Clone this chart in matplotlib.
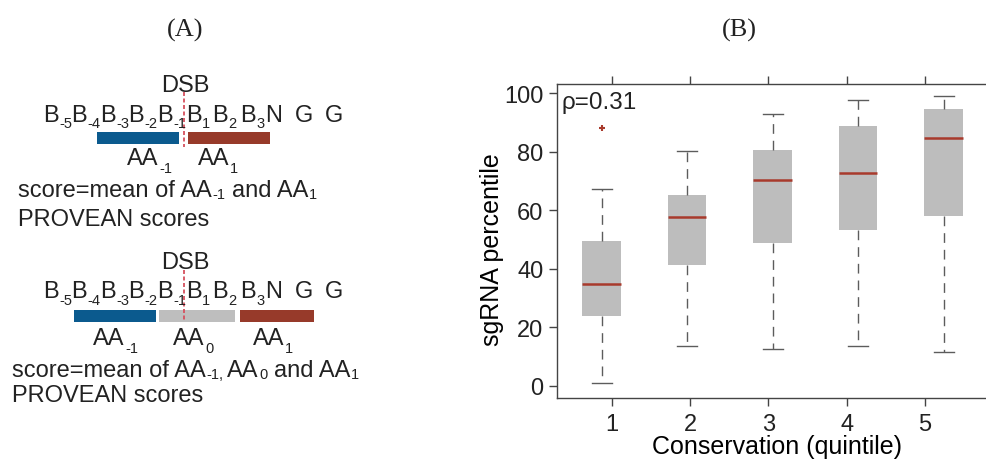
import matplotlib
matplotlib.use("Agg")
import matplotlib.pyplot as plt

plt.rcParams['font.family'] = ['Liberation Sans', 'DejaVu Sans']
plt.rcParams['text.color'] = '#222222'

# ---- panel B data ----
quintiles = ['1', '2', '3', '4', '5']
whisker_low = [1.1, 13.7, 12.6, 13.7, 11.5]
q1 = [23.9, 41.4, 48.9, 53.4, 58.1]
medians = [34.8, 57.7, 70.5, 72.9, 84.7]
q3 = [49.4, 65.4, 80.6, 89.0, 94.5]
whisker_high = [67.3, 80.4, 92.8, 97.7, 99.2]
outliers = [[88.1], [], [], [], []]
rho_text = 'ρ=0.31'

# ---- panel A diagram text ----
seq_letters = ['B', 'B', 'B', 'B', 'B', 'B', 'B', 'B', 'N', 'G', 'G']
seq_subs = ['-5', '-4', '-3', '-2', '-1', '1', '2', '3', '', '', '']

BLUE = '#0b5a8e'
RED = '#973a2a'
GREY = '#bebebe'
DSB_RED = '#d6505e'

fig = plt.figure(figsize=(9.86, 4.64), dpi=100)
renderer = fig.canvas.get_renderer()

# full-figure axes in pixel units for the schematic
ax_a = fig.add_axes([0, 0, 1, 1])
ax_a.set_xlim(0, 986)
ax_a.set_ylim(464, 0)
ax_a.axis('off')

BIG = 17
SMALL = 10.5
TITLE = 19


def text_width(t):
    return t.get_window_extent(renderer).width


def chain(x, y, pieces):
    # pieces: (text, fontsize, drop, gap_before)
    for txt, size, drop, gap in pieces:
        x += gap
        t = ax_a.text(x, y + drop, txt, fontsize=size, ha='left', va='baseline')
        x += text_width(t)
    return x


def draw_sequence(baseline, xs):
    for letter, sub, x in zip(seq_letters, seq_subs, xs):
        t = ax_a.text(x, baseline, letter, fontsize=BIG, ha='left', va='baseline')
        if sub:
            ax_a.text(x + text_width(t) + 0.5, baseline + 6.5, sub, fontsize=SMALL,
                      ha='left', va='baseline')


seq_x = [43, 71.5, 100, 128.5, 157, 186, 212, 240, 265, 295, 325]

# top diagram
ax_a.text(185, 30, '(A)', fontsize=TITLE, family='Liberation Serif', ha='center', va='center')
ax_a.text(185, 86, 'DSB', fontsize=BIG, ha='center', va='center')
draw_sequence(121.7, seq_x)
ax_a.barh(139, 82.3, left=96.7, height=12.3, color=BLUE)
ax_a.barh(139, 81.7, left=188.3, height=12.3, color=RED)
ax_a.plot([183.5, 183.5], [93, 148], color=DSB_RED, lw=1.3, ls=(0, (2.2, 1.4)))
chain(127, 165, [('AA', BIG, 0, 0), ('-1', SMALL, 8, 0.5)])
chain(198, 165, [('AA', BIG, 0, 0), ('1', SMALL, 8, 0.5)])
chain(18, 196.7, [('score=mean of AA', BIG, 0, 0), ('-1', SMALL, 2, 0.5),
                  ('and AA', BIG, 0, 6.5), ('1', SMALL, 2, 0.5)])
ax_a.text(18, 225.7, 'PROVEAN scores', fontsize=BIG, ha='left', va='baseline')

# bottom diagram
ax_a.text(185, 263.5, 'DSB', fontsize=BIG, ha='center', va='center')
draw_sequence(298.3, seq_x)
ax_a.barh(316.8, 82, left=74, height=11.7, color=BLUE)
ax_a.barh(316.8, 75.7, left=159.3, height=11.7, color=GREY)
ax_a.barh(316.8, 74, left=240, height=11.7, color=RED)
ax_a.plot([183.5, 183.5], [271, 322], color=DSB_RED, lw=1.3, ls=(0, (2.2, 1.4)))
chain(93.3, 345, [('AA', BIG, 0, 0), ('-1', SMALL, 8, 0.5)])
chain(173.3, 345, [('AA', BIG, 0, 0), ('0', SMALL, 8, 0.5)])
chain(253.3, 345, [('AA', BIG, 0, 0), ('1', SMALL, 8, 0.5)])
chain(11.7, 376.7, [('score=mean of AA', BIG, 0, 0), ('-1,', SMALL, 2, 0.5),
                    ('AA', BIG, 0, 4), ('0', SMALL, 2, 0.5),
                    ('and AA', BIG, 0, 6.5), ('1', SMALL, 2, 0.5)])
ax_a.text(11.7, 401.7, 'PROVEAN scores', fontsize=BIG, ha='left', va='baseline')

ax_a.text(739, 30, '(B)', fontsize=TITLE, family='Liberation Serif', ha='center', va='center')

# ---- panel B boxplot ----
left = 557.3 / 986
bottom = (464 - 399) / 464
top = (464 - 85) / 464
ax = fig.add_axes([left, bottom, 1 - left, top - bottom])

stats = []
for i in range(len(quintiles)):
    stats.append(dict(whislo=whisker_low[i], q1=q1[i], med=medians[i], q3=q3[i],
                      whishi=whisker_high[i], fliers=outliers[i], label=quintiles[i]))
positions = list(range(1, len(quintiles) + 1))

ax.bxp(stats, positions=positions, widths=0.45, capwidths=0.23, patch_artist=True,
       boxprops=dict(facecolor='#bdbdbd', edgecolor='none'),
       medianprops=dict(color='#a83a2c', lw=1.8),
       whiskerprops=dict(color='#5c5c5c', lw=1.0, ls=(0, (7, 5))),
       capprops=dict(color='#5c5c5c', lw=1.0),
       flierprops=dict(marker='+', markeredgecolor='#a83a2c', markersize=5, mew=1.5))

ax.set_xlim(0.481, 5.495)
ax.set_ylim(-4.2, 103.2)
# tick marks do not line up with the boxes in the original figure
tick_pos = [1.117, 2.033, 2.949, 3.865, 4.782]
ax.set_xticks(tick_pos)
ax.set_xticklabels(quintiles)
ax.set_yticks([0, 20, 40, 60, 80, 100])
ax.tick_params(axis='both', labelsize=17, length=6, width=1.0, color='#444444',
               labelcolor='#222222', direction='out')
ax.tick_params(axis='x', top=True, pad=5)
ax.tick_params(axis='y', pad=4)
for side in ['left', 'top', 'bottom']:
    ax.spines[side].set_color('#444444')
    ax.spines[side].set_linewidth(1.0)
ax.spines['right'].set_visible(False)

ax.set_ylabel('sgRNA percentile', fontsize=18)
ax.yaxis.set_label_coords(-0.125, 0.475)
ax.set_xlabel('Conservation (quintile)', fontsize=18)
ax.xaxis.set_label_coords(0.512, -0.115)
ax.text(0.532, 95, rho_text, fontsize=17.5, ha='left', va='baseline')

fig.savefig('out.png', dpi=100)
